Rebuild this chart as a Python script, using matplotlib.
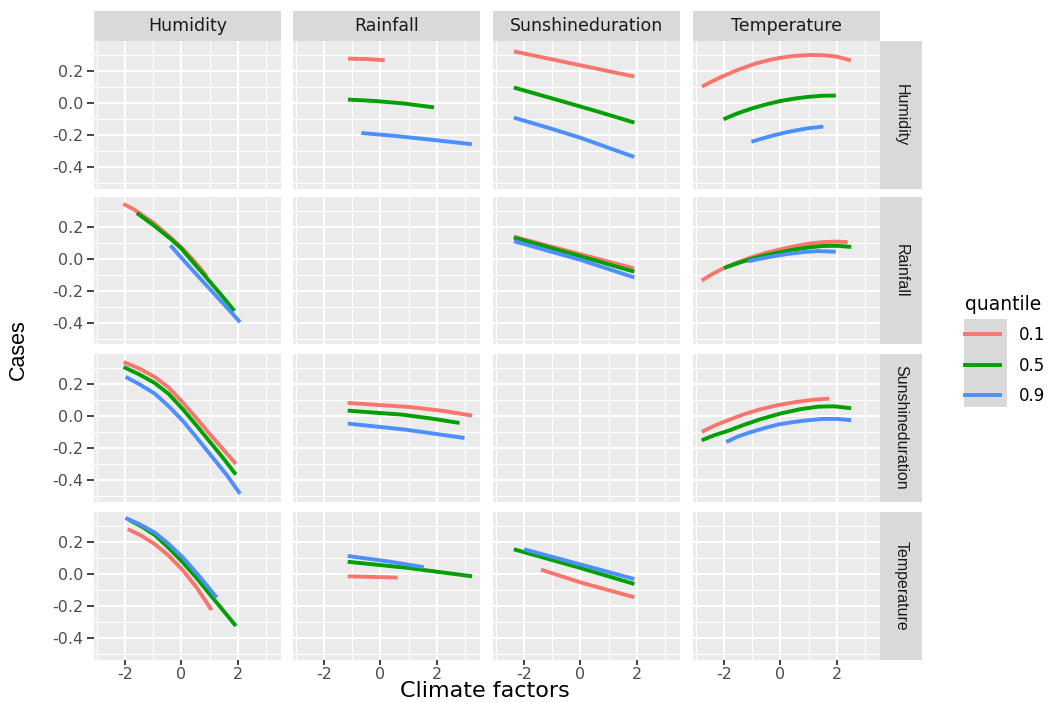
import matplotlib
matplotlib.use('Agg')
import matplotlib.pyplot as plt
from matplotlib.lines import Line2D
from matplotlib.patches import Rectangle

# quantile regression fits of cases on standardised climate factors
factors = ['Humidity', 'Rainfall', 'Sunshineduration', 'Temperature']
quantiles = ['0.1', '0.5', '0.9']
colors = ['#F8766D', '#00A000', '#4D8FFF']

x_ticks = [-2, 0, 2]
x_tick_labels = ['-2', '0', '2']
y_ticks = [-0.4, -0.2, 0.0, 0.2]
y_tick_labels = ['-0.4', '-0.2', '0.0', '0.2']

# row = response facet, column = predictor facet; {quantile: (x, y)}
hum_rain = {
    '0.1': ([-1.15, -0.5, 0.15], [0.275, 0.272, 0.265]),
    '0.5': ([-1.15, -0.2, 0.8, 1.9], [0.019, 0.010, -0.005, -0.030]),
    '0.9': ([-0.68, 0.5, 1.8, 3.24], [-0.19, -0.208, -0.232, -0.26]),
}
hum_sun = {
    '0.1': ([-2.36, 0.0, 1.91], [0.32, 0.233, 0.163]),
    '0.5': ([-2.36, -1.0, 0.5, 1.91], [0.094, 0.026, -0.050, -0.125]),
    '0.9': ([-2.36, -1.0, 0.0, 1.0, 1.91], [-0.094, -0.165, -0.22, -0.283, -0.34]),
}
hum_temp = {
    '0.1': ([-2.78, -2.4, -2.0, -1.5, -0.87, -0.4, 0.0, 0.5, 1.11, 1.6, 2.0, 2.5],
            [0.10, 0.135, 0.168, 0.205, 0.245, 0.266, 0.28, 0.292, 0.298, 0.295, 0.287, 0.264]),
    '0.5': ([-2.02, -1.5, -1.0, -0.5, 0.0, 0.5, 1.0, 1.5, 1.96],
            [-0.104, -0.066, -0.036, -0.011, 0.01, 0.025, 0.036, 0.043, 0.044]),
    '0.9': ([-1.03, -0.6, -0.2, 0.2, 0.6, 1.0, 1.52],
            [-0.245, -0.222, -0.203, -0.186, -0.172, -0.16, -0.15]),
}
rain_hum = {
    '0.1': ([-2.06, -1.67, -1.0, -0.5, 0.0, 0.45, 0.9],
            [0.342, 0.306, 0.225, 0.15, 0.07, -0.015, -0.11]),
    '0.5': ([-1.58, -1.0, -0.36, 0.0, 0.3, 0.89, 1.4, 1.88],
            [0.285, 0.21, 0.12, 0.062, 0.0, -0.12, -0.225, -0.327]),
    '0.9': ([-0.39, 0.15, 0.71, 1.4, 2.08], [0.082, -0.025, -0.133, -0.265, -0.397]),
}
rain_sun = {
    '0.1': ([-2.36, 0.0, 1.9], [0.137, 0.027, -0.061]),
    '0.5': ([-2.36, 0.0, 1.91], [0.131, 0.015, -0.082]),
    '0.9': ([-2.36, 0.0, 1.91], [0.109, -0.008, -0.118]),
}
rain_temp = {
    '0.1': ([-2.79, -2.4, -2.0, -1.5, -1.0, -0.5, 0.0, 0.5, 1.0, 1.5, 2.0, 2.38],
            [-0.137, -0.095, -0.059, -0.022, 0.01, 0.037, 0.058, 0.077, 0.093, 0.103, 0.106, 0.103]),
    '0.5': ([-2.0, -1.5, -1.0, -0.5, 0.0, 0.5, 1.0, 1.5, 2.0, 2.51],
            [-0.059, -0.028, 0.0, 0.022, 0.04, 0.057, 0.07, 0.079, 0.08, 0.073]),
    '0.9': ([-1.15, -0.7, -0.2, 0.3, 0.8, 1.3, 1.96],
            [-0.017, 0.0, 0.016, 0.03, 0.041, 0.047, 0.043]),
}
sun_hum = {
    '0.1': ([-2.05, -1.5, -0.95, -0.45, 0.06, 0.55, 1.07, 1.5, 1.93],
            [0.335, 0.295, 0.242, 0.175, 0.079, -0.02, -0.129, -0.215, -0.302]),
    '0.5': ([-2.05, -1.5, -0.95, -0.45, 0.06, 0.55, 1.07, 1.5, 1.93],
            [0.304, 0.258, 0.204, 0.135, 0.0375, -0.065, -0.177, -0.27, -0.369]),
    '0.9': ([-1.98, -1.5, -0.95, -0.45, 0.06, 0.55, 1.07, 1.6, 2.08],
            [0.242, 0.197, 0.138, 0.058, -0.035, -0.14, -0.254, -0.37, -0.489]),
}
sun_rain = {
    '0.1': ([-1.16, 1.0, 2.2, 3.25], [0.079, 0.054, 0.03, 0.0]),
    '0.5': ([-1.16, 0.76, 1.8, 2.8], [0.031, 0.006, -0.018, -0.046]),
    '0.9': ([-1.16, 0.88, 2.98], [-0.05, -0.0875, -0.14]),
}
sun_temp = {
    '0.1': ([-2.79, -2.3, -1.8, -1.3, -0.75, -0.1, 0.55, 1.2, 1.73],
            [-0.102, -0.06, -0.025, 0.008, 0.0375, 0.065, 0.085, 0.1, 0.106]),
    '0.5': ([-2.79, -2.3, -1.8, -1.3, -0.75, 0.0, 0.7, 1.35, 1.9, 2.51],
            [-0.154, -0.12, -0.092, -0.058, -0.025, 0.013, 0.04, 0.056, 0.058, 0.046]),
    '0.9': ([-1.92, -1.5, -1.03, -0.5, -0.09, 0.4, 0.82, 1.48, 2.0, 2.51],
            [-0.165, -0.13, -0.102, -0.075, -0.056, -0.042, -0.032, -0.021, -0.021, -0.029]),
}
temp_hum = {
    '0.1': ([-1.9, -1.45, -0.95, -0.45, 0.06, 0.55, 1.07],
            [0.278, 0.24, 0.185, 0.112, 0.019, -0.09, -0.228]),
    '0.5': ([-1.85, -1.4, -0.95, -0.45, 0.06, 0.55, 1.07, 1.5, 1.93],
            [0.335, 0.293, 0.242, 0.16, 0.068, -0.03, -0.143, -0.235, -0.327]),
    '0.9': ([-1.99, -1.5, -0.95, -0.45, 0.06, 0.65, 1.25],
            [0.348, 0.31, 0.257, 0.185, 0.099, -0.02, -0.15]),
}
temp_rain = {
    '0.1': ([-1.16, 0.61], [-0.017, -0.025]),
    '0.5': ([-1.16, 1.0, 3.25], [0.074, 0.035, -0.017]),
    '0.9': ([-1.16, 0.2, 1.54], [0.11, 0.078, 0.04]),
}
temp_sun = {
    '0.1': ([-1.4, 0.0, 1.91], [0.025, -0.055, -0.148]),
    '0.5': ([-2.36, 0.0, 1.91], [0.152, 0.035, -0.065]),
    '0.9': ([-2.0, 0.0, 1.91], [0.152, 0.057, -0.034]),
}

curves = {
    ('Humidity', 'Rainfall'): hum_rain,
    ('Humidity', 'Sunshineduration'): hum_sun,
    ('Humidity', 'Temperature'): hum_temp,
    ('Rainfall', 'Humidity'): rain_hum,
    ('Rainfall', 'Sunshineduration'): rain_sun,
    ('Rainfall', 'Temperature'): rain_temp,
    ('Sunshineduration', 'Humidity'): sun_hum,
    ('Sunshineduration', 'Rainfall'): sun_rain,
    ('Sunshineduration', 'Temperature'): sun_temp,
    ('Temperature', 'Humidity'): temp_hum,
    ('Temperature', 'Rainfall'): temp_rain,
    ('Temperature', 'Sunshineduration'): temp_sun,
}

W, H = 1060, 702
fig = plt.figure(figsize=(W / 100, H / 100), dpi=100)

col_left = [94, 293, 493, 693]
col_w = 187
row_top = [41, 197, 354, 512]
row_h = 147.5


def box(x0, y0, w, h):
    return [x0 / W, 1 - (y0 + h) / H, w / W, h / H]


def strip(rect, text, rotation=0, **kw):
    s = fig.add_axes(rect)
    s.set_facecolor('#D9D9D9')
    s.set_xticks([])
    s.set_yticks([])
    for sp in s.spines.values():
        sp.set_visible(False)
    s.text(0.5, 0.5, text, rotation=rotation, ha='center', va='center',
           color='#1A1A1A', transform=s.transAxes, **kw)


for i, resp in enumerate(factors):
    for j, pred in enumerate(factors):
        ax = fig.add_axes(box(col_left[j], row_top[i], col_w, row_h))
        ax.set_facecolor('#EBEBEB')
        for sp in ax.spines.values():
            sp.set_visible(False)
        ax.set_xlim(-3.1, 3.53)
        ax.set_ylim(-0.537, 0.385)
        ax.set_xticks(x_ticks)
        ax.set_yticks(y_ticks)
        ax.set_xticks([-3, -1, 1, 3], minor=True)
        ax.set_yticks([-0.5, -0.3, -0.1, 0.1, 0.3], minor=True)
        ax.grid(which='major', color='white', linewidth=1.5)
        ax.grid(which='minor', color='white', linewidth=0.8)
        ax.set_axisbelow(True)
        ax.tick_params(which='minor', length=0)
        ax.tick_params(which='major', colors='#333333', labelcolor='#4D4D4D',
                       labelsize=11.5, width=1.3)
        if j == 0:
            ax.set_yticklabels(y_tick_labels)
            ax.tick_params(axis='y', length=5, pad=3)
        else:
            ax.tick_params(axis='y', length=0, labelleft=False)
        if i == len(factors) - 1:
            ax.set_xticklabels(x_tick_labels)
            ax.tick_params(axis='x', length=3.5, pad=2)
        else:
            ax.tick_params(axis='x', length=0, labelbottom=False)

        fits = curves.get((resp, pred))
        if fits:
            for q, c in zip(quantiles, colors):
                xs, ys = fits[q]
                ax.plot(xs, ys, color=c, linewidth=2.8, solid_capstyle='butt',
                        solid_joinstyle='round')

        if i == 0:
            strip(box(col_left[j], 11, col_w, 30), pred, fontsize=12.5,
                  family='DejaVu Sans')
    strip(box(880, row_top[i], 42, row_h), resp, rotation=-90, fontsize=11.5,
          family='Liberation Sans')

fig.text(485 / W, 1 - 691 / H, 'Climate factors', ha='center', va='center',
         fontsize=16, family='DejaVu Sans')
fig.text(18 / W, 1 - 350 / H, 'Cases', ha='center', va='center', rotation=90,
         fontsize=15.5, family='Liberation Sans')

# legend with grey key background
fig.add_artist(Rectangle((964 / W, 1 - 407 / H), 43 / W, 88 / H,
                         transform=fig.transFigure, facecolor='#D9D9D9',
                         edgecolor='none'))
handles = [Line2D([], [], color=c, linewidth=2.8) for c in colors]
leg = fig.legend(handles, quantiles, title='quantile', loc='upper left',
                 bbox_to_anchor=(958 / W, 1 - 288 / H), frameon=False,
                 prop={'family': 'DejaVu Sans', 'size': 12},
                 title_fontproperties={'family': 'DejaVu Sans', 'size': 13.5},
                 handlelength=2.1, handletextpad=1.15, labelspacing=0.75,
                 alignment='left', borderaxespad=0)

fig.savefig('out.png', dpi=100)
